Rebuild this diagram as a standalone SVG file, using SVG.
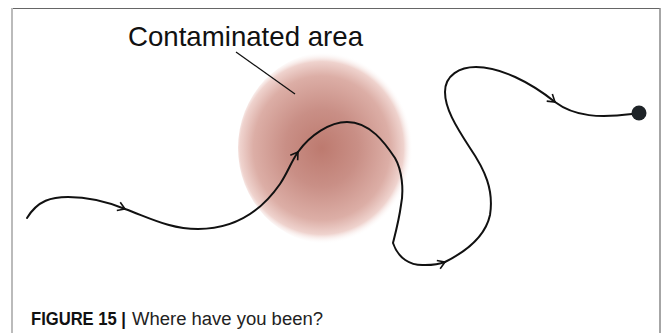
<svg xmlns="http://www.w3.org/2000/svg" width="662" height="333" viewBox="0 0 662 333">
<style>
.path{fill:none;stroke:#111;stroke-width:2;stroke-linecap:round;stroke-linejoin:round}
.lbl{font-family:"Liberation Sans",Arial,sans-serif;fill:#111}
</style>
<defs>
<radialGradient id="blob" cx="0.46" cy="0.5" r="0.5">
<stop offset="0" stop-color="#bd7a6f"/>
<stop offset="0.4" stop-color="#c98f86"/>
<stop offset="0.75" stop-color="#dcaea6"/>
<stop offset="0.9" stop-color="#efd3ce"/>
<stop offset="1" stop-color="#ffffff" stop-opacity="0"/>
</radialGradient>
<marker id="chev" markerUnits="userSpaceOnUse" markerWidth="12" markerHeight="12" refX="9" refY="6" orient="auto" viewBox="0 0 12 12">
<path d="M2,1.5 L9,6 L2,10.5" fill="none" stroke="#111" stroke-width="1.6" stroke-linejoin="miter"/>
</marker>
</defs>
<rect width="662" height="333" fill="#fff"/>
<line x1="12" y1="8.5" x2="660" y2="8.5" stroke="#666" stroke-width="1"/>
<line x1="12" y1="8" x2="12" y2="333" stroke="#bbb" stroke-width="2"/>
<line x1="660" y1="8" x2="660" y2="333" stroke="#888" stroke-width="1.5"/>
<g id="contaminated-area">
<ellipse cx="329" cy="148" rx="91" ry="96" fill="url(#blob)"/>
<text class="lbl" x="128" y="46" font-size="27.5" textLength="235" lengthAdjust="spacingAndGlyphs">Contaminated area</text>
<line x1="236" y1="52" x2="295" y2="94" stroke="#111" stroke-width="1.3"/>
</g>
<g id="connectors">
<path class="path" marker-end="url(#chev)" d="M27,218 C38,200 52,197 68,197 C90,197 108,202 125,209"/>
<path class="path" marker-end="url(#chev)" d="M125,209 C150,218 170,229 198,229 C235,229 262,210 280,184 C288,172 291,162 298,152"/>
<path class="path" marker-end="url(#chev)" d="M298,152 C310,135 330,122 347,122 C370,122 385,143 395,158 C402,170 404,190 401,205 C399,220 395,235 393,243 C398,258 410,266 425,265 C435,265 440,264 445,262"/>
<path class="path" marker-end="url(#chev)" d="M445,262 C465,252 485,238 490,215 C494,190 485,170 470,148 C455,125 445,108 445,92 C445,75 460,67 476,67 C500,67 530,82 555,102"/>
<path class="path" d="M555,102 C575,117 600,118 632,114"/>
</g>
<g id="end-point">
<circle cx="639" cy="113" r="7.5" fill="#1e2327"/>
</g>
<g id="caption">
<text class="lbl" y="325" font-size="18"><tspan x="31" font-weight="bold" textLength="95" lengthAdjust="spacingAndGlyphs">FIGURE 15 |</tspan><tspan x="132" fill="#222" textLength="191" lengthAdjust="spacingAndGlyphs">Where have you been?</tspan></text>
</g>
</svg>
